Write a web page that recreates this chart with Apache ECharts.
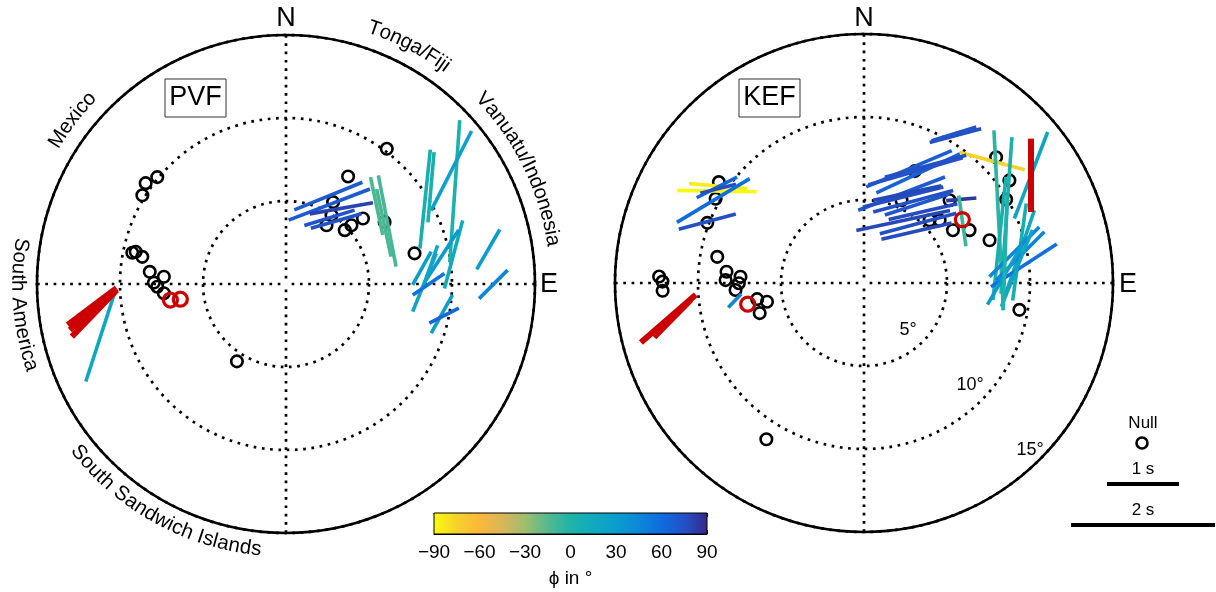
<!DOCTYPE html>
<html><head><meta charset="utf-8">
<script src="https://cdn.jsdelivr.net/npm/echarts@6/dist/echarts.min.js"></script>
<style>html,body{margin:0;padding:0;background:#fff}#c{width:1216px;height:592px}</style>
</head><body><div id="c"></div>
<script>
// ===== PVF (left) =====
// splitting measurements: backazimuth (deg), incidence (deg), fast axis phi (deg), delay dt (s)
const pvfBaz = [25.7, 28.6, 36.2, 33.3, 38.5, 49.3, 58.1, 58.0, 61.2, 55.6, 58.6, 56.3, 80.0, 79.5, 82.3, 83.4, 89.4, 90.1, 100.9, 101.3, 80.3, 90.1, 253.8];
const pvfInc = [5.88, 5.45, 5.65, 4.77, 4.85, 7.2, 7.18, 6.95, 11.6, 12.07, 9.82, 10.5, 10.25, 9.58, 8.82, 8.24, 8.34, 8.59, 9.56, 9.71, 12.36, 12.49, 11.67];
const pvfPhi = [68, 69, 80, 73, 74, -12, -11, -12, 4, 27, 6, 5, 15, 33, 19, 29, 22, 56, 29, 63, 30, 45, 18];
const pvfDt  = [1.02, 1.21, 0.89, 0.73, 0.73, 0.82, 1.29, 0.96, 1.98, 1.24, 1.38, 0.98, 0.98, 0.83, 0.56, 0.53, 0.87, 0.53, 0.61, 0.46, 0.64, 0.56, 1.27];
// highlighted (red) measurements
const pvfRedBaz = [263.4, 261.3, 262.1];
const pvfRedInc = [11.76, 11.68, 11.81];
const pvfRedPhi = [53, 44, 49];
const pvfRedDt  = [0.85, 0.9, 0.81];
// null measurements
const pvfNullBaz = [309.7, 305.7, 301.7, 281.5, 282.1, 280.7, 275.1, 273.4, 270.6, 268.8, 265.7, 212.4, 36.7, 30.0, 29.9, 33.5, 34.6, 47.5, 48.1, 49.6, 57.8, 76.6];
const pvfNullInc = [10.08, 10.41, 10.17, 9.45, 9.26, 8.81, 8.24, 7.37, 7.96, 7.76, 7.38, 5.52, 10.16, 7.48, 5.69, 4.97, 4.3, 4.8, 5.3, 6.09, 7.02, 7.96];
const pvfRedNullBaz = [262.1, 261.8];
const pvfRedNullInc = [7.03, 6.43];
// source-region labels around the PVF circle
const regionNames = ['Mexico', 'Tonga/Fiji', 'Vanuatu/Indonesia', 'South America', 'South Sandwich Islands'];
const regionBaz = [307.5, 27.3, 63.8, 265.5, 208.8];

// ===== KEF (right) =====
const kefBaz = [303.6, 302.0, 303.0, 302.9, 298.7, 291.4, 262.2, 31.8, 31.1, 46.4,
  21.5, 26.3, 27.8, 24.8, 22.8, 25.7, 24.5, 31.0, 34.2, 39.6, 49.3, 32.1, 42.3, 45.3,
  57.7, 65.0, 64.6, 57.2, 71.8, 78.7, 78.7, 78.3, 83.7, 80.2, 86.4, 84.5, 77.9];
const kefInc = [10.55, 10.45, 10.57, 10.46, 10.35, 10.14, 7.86, 10.45, 10.49, 10.65,
  7.4, 7.36, 7.95, 7.41, 5.84, 6.02, 5.69, 5.75, 5.72, 5.58, 7.73, 4.44, 4.84, 4.45,
  7.01, 8.95, 9.5, 11.97, 8.59, 9.55, 9.59, 9.25, 9.69, 9.55, 8.52, 9.25, 8.7];
const kefPhi = [-85, -89, 63, 76, 59, 75, 44, 75, 73, -75,
  67, 65, 75, 74, 69, 78, 76, 75, 72, 77, 85, 78, 75, 77,
  -8, -3, 4, 21, 6, 8, 19, 45, 57, 45, 30, 22, 2];
const kefDt = [0.81, 1.1, 0.63, 0.51, 1.18, 0.82, 0.26, 0.74, 0.65, 0.94,
  1.29, 1.28, 1.17, 1.36, 1.29, 0.97, 1.15, 1.15, 0.95, 0.98, 0.42, 1.33, 1.1, 1.0,
  0.71, 2.5, 2.18, 1.29, 1.72, 1.36, 1.22, 0.98, 1.09, 0.95, 0.98, 1.15, 1.6];
const kefRedBaz = [259.7, 259.5, 57.2];
const kefRedInc = [11.98, 11.73, 11.97];
const kefRedPhi = [49, 44.5, 0];
const kefRedDt  = [1.01, 0.73, 1.02];
const kefNullBaz = [304.8, 299.6, 291.0, 280.1, 271.8, 270.4, 267.8, 274.7, 271.2, 272.9, 269.9, 266.9, 261.4, 259.1, 253.9, 212.0,
  24.4, 46.4, 54.8, 59.6, 46.0, 46.3, 50.3, 59.3, 63.4, 71.2, 99.8, 24.4];
const kefNullInc = [10.65, 10.28, 10.11, 8.98, 12.35, 12.14, 12.14, 8.31, 8.34, 7.45, 7.54, 7.75, 6.51, 5.95, 6.54, 11.1,
  7.4, 10.99, 10.72, 9.93, 7.17, 5.47, 5.92, 6.23, 7.11, 7.99, 9.5, 5.47];
const kefRedNullBaz = [259.7, 57.2];
const kefRedNullInc = [7.12, 7.05];

// colour bar ticks
const phiTicks = [-90, -60, -30, 0, 30, 60, 90];
const ringLabels = ['5°', '10°', '15°'];
const legendDt = [1, 2];

// ===== styling =====
const SEC_PX = 72; // pixels per second of delay time
const FONT = '"Liberation Sans", Arial, Helvetica, sans-serif';
const cmap = [[-90,'#f9fb0e'],[-75,'#f6d22a'],[-60,'#fbb83a'],[-45,'#d8b657'],[-30,'#a0bd6d'],[-15,'#55b98f'],[0,'#1fb3a7'],[15,'#10aabd'],[30,'#0b9dcd'],[45,'#0c87d8'],[60,'#0f6ce0'],[75,'#2450c6'],[90,'#352a87']];
function hex(c){return [parseInt(c.slice(1,3),16),parseInt(c.slice(3,5),16),parseInt(c.slice(5,7),16)];}
function phiColor(p){
  p = Math.max(-90, Math.min(90, p));
  for (let i=0;i<cmap.length-1;i++){
    const a=cmap[i], b=cmap[i+1];
    if (p<=b[0]){
      const t=(p-a[0])/(b[0]-a[0]); const ca=hex(a[1]), cb=hex(b[1]);
      return 'rgb('+ca.map((v,k)=>Math.round(v+(cb[k]-v)*t)).join(',')+')';
    }
  }
  return cmap[cmap.length-1][1];
}
function zip4(a,b,c,d){return a.map((v,i)=>[b[i], v, c[i], d[i]]);} // [inc, baz, phi, dt]
function zip2(baz,inc){return baz.map((v,i)=>[inc[i], v]);}
function barRender(fixedColor, width){
  return function(params, api){
    const c = api.coord([api.value(0), api.value(1)]);
    const ph = api.value(2)*Math.PI/180;
    const h = api.value(3)*SEC_PX/2;
    const dx = Math.sin(ph)*h, dy = Math.cos(ph)*h;
    return {type:'line', shape:{x1:c[0]-dx, y1:c[1]+dy, x2:c[0]+dx, y2:c[1]-dy},
      style:{stroke: fixedColor || phiColor(api.value(2)), lineWidth: width, lineCap:'butt', opacity:1}};
  };
}
const DOT = {color:'#000', width:2.7, type:[2.7,5.6], cap:'butt', opacity:1};
function polarAxes(i){
  return {
    angle: {polarIndex:i, type:'value', min:0, max:360, interval:90, startAngle:90, clockwise:true,
      axisLine:{show:true, lineStyle:{color:'#000', width:2.6}}, axisTick:{show:false}, axisLabel:{show:false},
      splitLine:{show:true, lineStyle:DOT}},
    radius: {polarIndex:i, type:'value', min:0, max:15, interval:5,
      axisLine:{show:false}, axisTick:{show:false}, axisLabel:{show:false},
      splitLine:{show:true, lineStyle:DOT}}
  };
}
const p0 = polarAxes(0), p1 = polarAxes(1);
function stationSeries(i, baz, inc, phi, dt, rb, ri, rp, rd, nb, ni, rnb, rni){
  return [
    {type:'scatter', coordinateSystem:'polar', polarIndex:i, data:zip2(nb, ni), symbol:'circle', symbolSize:11.5,
      itemStyle:{color:'rgba(0,0,0,0)', borderColor:'#000', borderWidth:2.6, opacity:1}, z:2, silent:true},
    {type:'custom', coordinateSystem:'polar', polarIndex:i, data:zip4(baz,inc,phi,dt), renderItem:barRender(null,3.6), z:3, silent:true},
    {type:'custom', coordinateSystem:'polar', polarIndex:i, data:zip4(rb,ri,rp,rd), renderItem:barRender('#cc0000',6), z:4, silent:true},
    {type:'scatter', coordinateSystem:'polar', polarIndex:i, data:zip2(rnb, rni), symbol:'circle', symbolSize:14,
      itemStyle:{color:'rgba(255,255,255,0)', borderColor:'#cc0000', borderWidth:3.2, opacity:1}, z:5, silent:true}
  ];
}
function txt(x,y,s,size,rotDeg){
  return {type:'text', x:x, y:y, rotation:(rotDeg||0)*Math.PI/180,
    style:{text:s, font:size+'px '+FONT, fill:'#000', textAlign:'center', textVerticalAlign:'middle', align:'center', verticalAlign:'middle'}};
}
// text bent along a circle around (cx,cy); outward=true: reads clockwise with letter tops pointing outward
const measureCtx = document.createElement('canvas').getContext('2d');
function arcText(cx, cy, R, azDeg, s, size, outward){
  const font = size+'px '+FONT;
  measureCtx.font = font;
  const widths = Array.from(s).map(ch=>measureCtx.measureText(ch).width);
  const total = widths.reduce((a,b)=>a+b,0);
  const out = []; let acc = 0;
  const az0 = azDeg*Math.PI/180;
  Array.from(s).forEach((ch,k)=>{
    const sMid = acc + widths[k]/2 - total/2; acc += widths[k];
    const a = outward ? az0 + sMid/R : az0 - sMid/R;
    const x = cx + R*Math.sin(a), y = cy - R*Math.cos(a);
    const rot = outward ? -a : -(a+Math.PI);
    out.push({type:'text', x:x, y:y, rotation:rot,
      style:{text:ch, font:font, fill:'#000', textAlign:'center', textVerticalAlign:'middle', align:'center', verticalAlign:'middle'}});
  });
  return out;
}
const C0 = [286,284], C1 = [864,283];
const regionR = [270, 270, 270, 268, 267];
const regionOut = [true, true, true, false, false];
const regionText = [];
regionNames.forEach((n,i)=>regionText.push(...arcText(C0[0], C0[1], regionR[i], regionBaz[i], n, 20.5, regionOut[i])));

const CB_LEFT=434, CB_W=273, CB_TOP=513, CB_H=21;
const gradStops = cmap.map(s=>({offset:(s[0]+90)/180, color:s[1]}));

const option = {
  animation:false,
  polar:[{center:C0, radius:249}, {center:C1, radius:249}],
  angleAxis:[p0.angle, p1.angle],
  radiusAxis:[p0.radius, p1.radius],
  grid:[{left:CB_LEFT, top:CB_TOP, width:CB_W, height:CB_H, outerBoundsMode:'none', containLabel:false}],
  xAxis:[
    {gridIndex:0, type:'value', min:-90, max:90, interval:30, position:'bottom',
      axisLine:{show:true, lineStyle:{color:'#000', width:1}}, axisTick:{show:true, inside:true, length:4, lineStyle:{color:'#222'}},
      axisLabel:{show:true, color:'#000', fontSize:19, fontFamily:'Liberation Sans', margin:9,
        formatter:v=>(phiTicks.indexOf(v)>=0 ? String(v).replace('-','\u2212') : '')},
      splitLine:{show:false}, name:'\u03d5 in \u00b0', nameLocation:'middle', nameGap:35,
      nameTextStyle:{color:'#000', fontSize:19, fontFamily:'Liberation Sans'}},
    {gridIndex:0, type:'value', min:-90, max:90, interval:30, position:'top',
      axisLine:{show:true, lineStyle:{color:'#000', width:1}}, axisTick:{show:true, inside:true, length:4, lineStyle:{color:'#222'}},
      axisLabel:{show:false}, splitLine:{show:false}}
  ],
  yAxis:[{gridIndex:0, type:'value', min:0, max:1, show:false}],
  series:[
    {type:'custom', xAxisIndex:0, yAxisIndex:0, data:[[phiTicks[0], phiTicks[phiTicks.length-1]]], z:1, silent:true,
      renderItem:function(params, api){
        const a = api.coord([api.value(0), 0]), b = api.coord([api.value(1), 1]);
        return {type:'rect', shape:{x:a[0], y:b[1], width:b[0]-a[0], height:a[1]-b[1]},
          style:{fill:{type:'linear', x:0, y:0, x2:1, y2:0, colorStops:gradStops}, stroke:'#000', lineWidth:1}};
      }},
    ...stationSeries(0, pvfBaz, pvfInc, pvfPhi, pvfDt, pvfRedBaz, pvfRedInc, pvfRedPhi, pvfRedDt, pvfNullBaz, pvfNullInc, pvfRedNullBaz, pvfRedNullInc),
    ...stationSeries(1, kefBaz, kefInc, kefPhi, kefDt, kefRedBaz, kefRedInc, kefRedPhi, kefRedDt, kefNullBaz, kefNullInc, kefRedNullBaz, kefRedNullInc)
  ],
  graphic:[
    txt(286,19,'N',27), txt(549,285,'E',27), txt(864,19,'N',27), txt(1128,285,'E',27),
    ...regionText,
    {type:'rect', shape:{x:165, y:79, width:61, height:38}, style:{fill:'#fff', stroke:'#333', lineWidth:1}, z:10},
    Object.assign(txt(195.5,98,'PVF',27), {z:11}),
    {type:'rect', shape:{x:739, y:79, width:61, height:38}, style:{fill:'#fff', stroke:'#333', lineWidth:1}, z:10},
    Object.assign(txt(769.5,98,'KEF',27), {z:11}),
    txt(908,330,ringLabels[0],18), txt(970,385,ringLabels[1],18), txt(1030,450,ringLabels[2],18),
    txt(1143,423,'Null',17),
    {type:'circle', shape:{cx:1142, cy:443, r:5.5}, style:{fill:'none', stroke:'#000', lineWidth:2.6}},
    txt(1143,469,legendDt[0]+' s',17),
    {type:'line', shape:{x1:1143-legendDt[0]*SEC_PX/2, y1:484, x2:1143+legendDt[0]*SEC_PX/2, y2:484}, style:{stroke:'#000', lineWidth:4}},
    txt(1143,510,legendDt[1]+' s',17),
    {type:'line', shape:{x1:1143-legendDt[1]*SEC_PX/2, y1:525, x2:1143+legendDt[1]*SEC_PX/2, y2:525}, style:{stroke:'#000', lineWidth:4}}
  ]
};
const chart = echarts.init(document.getElementById('c'), null, {renderer:'canvas'});
chart.setOption(option);
</script>
</body></html>
